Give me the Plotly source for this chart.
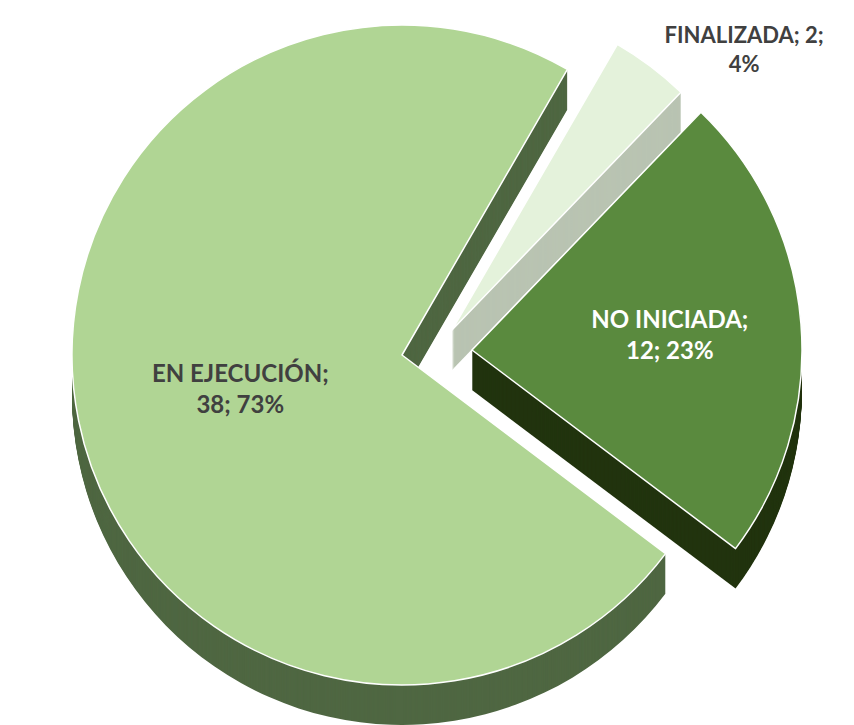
import plotly.graph_objects as go

# ---- data ----
labels = ["EN EJECUCIÓN", "FINALIZADA", "NO INICIADA"]
values = [38, 2, 12]
label_templates = [
    "%{label};<br>%{value}; %{percent:.0%}",
    "%{label}; %{value};<br>%{percent:.0%}",
    "%{label};<br>%{value}; %{percent:.0%}",
]

# ---- style ----
W, H = 854, 725
R = 330
CX, CY = 402, 355
DEPTH = 40
ROTATION = 127
offsets = [(0, 0), (50, -25), (70, -5)]          # exploded slice offsets (px)
top_colors = ["#B0D594", "#E4F2DB", "#5A8A3E"]
side_colors = ["#4F6742", "#B9C4B2", "#22340F"]
text_colors = ["#404040", "#404040", "#FFFFFF"]
text_pos = ["inside", "outside", "inside"]
CLEAR = "rgba(0,0,0,0)"
FONT = "Lato"


def domain_for(cx, cy):
    return dict(
        x=[(cx - R) / W, (cx + R) / W],
        y=[(H - (cy + R)) / H, (H - (cy - R)) / H],
    )


fig = go.Figure()

# depth layers (deepest first)
for k in range(DEPTH, 0, -1):
    for s in range(len(labels)):
        dx, dy = offsets[s]
        fig.add_trace(go.Pie(
            labels=labels, values=values, sort=False, direction="clockwise",
            rotation=ROTATION, domain=domain_for(CX + dx, CY + dy + k),
            marker=dict(colors=[side_colors[s] if i == s else CLEAR for i in range(len(labels))],
                        line=dict(width=0)),
            textinfo="none", hoverinfo="skip", showlegend=False,
        ))

# top faces
for s in range(len(labels)):
    dx, dy = offsets[s]
    n = len(labels)
    fig.add_trace(go.Pie(
        labels=labels, values=values, sort=False, direction="clockwise",
        rotation=ROTATION, domain=domain_for(CX + dx, CY + dy),
        marker=dict(colors=[top_colors[s] if i == s else CLEAR for i in range(n)],
                    line=dict(color=["white" if i == s else CLEAR for i in range(n)],
                              width=[1.5 if i == s else 0 for i in range(n)])),
        texttemplate=[label_templates[i] if i == s else "" for i in range(n)],
        textposition=[text_pos[i] for i in range(n)],
        textfont=dict(family=FONT, size=24, weight="bold",
                      color=[text_colors[i] for i in range(n)]),
        outsidetextfont=dict(family=FONT, size=22, weight="bold", color="#404040"),
        insidetextorientation="horizontal",
        automargin=False,
        hoverinfo="label+value+percent", showlegend=False,
    ))

fig.update_layout(
    width=W, height=H, margin=dict(l=0, r=0, t=0, b=0),
    paper_bgcolor="white", plot_bgcolor="white", showlegend=False,
)

fig.write_html("out.html", config={"displayModeBar": False},
               post_script="document.body.style.margin='0';")
